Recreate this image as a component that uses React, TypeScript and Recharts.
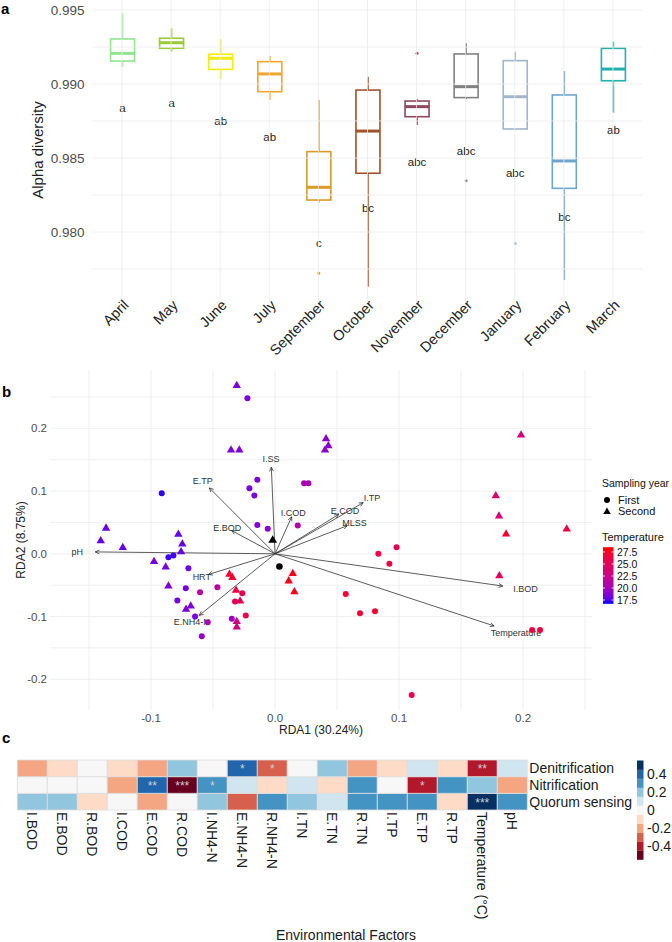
import React from 'react';
import {
  ComposedChart, Bar, XAxis, YAxis, ReferenceLine, ScatterChart, Scatter, BarChart, Cell, LabelList,
} from 'recharts';

const FONT = '"Liberation Sans", Arial, Helvetica, sans-serif';

// ---------- panel a: alpha diversity per month
const months = ['April', 'May', 'June', 'July', 'September', 'October', 'November', 'December', 'January', 'February', 'March'];
const whiskerLow = [0.99117, 0.99218, 0.99032, 0.98892, 0.98200, 0.97630, 0.98723, 0.98899, 0.98689, 0.97676, 0.98806];
const lowerQuartile = [0.99155, 0.99241, 0.99099, 0.98948, 0.98216, 0.98397, 0.98779, 0.98908, 0.98696, 0.98295, 0.99022];
const medians = [0.99207, 0.99279, 0.99174, 0.99068, 0.98302, 0.98682, 0.98847, 0.98982, 0.98914, 0.98480, 0.99101];
const upperQuartile = [0.99304, 0.99309, 0.99201, 0.99151, 0.98543, 0.98959, 0.98885, 0.99203, 0.99158, 0.98926, 0.99241];
const whiskerHigh = [0.99478, 0.99376, 0.99302, 0.99189, 0.98892, 0.99049, 0.98897, 0.99275, 0.99218, 0.99088, 0.99286];
const outliers: number[][] = [[], [], [], [], [0.97721], [], [0.99207], [0.98347], [0.97923], [], []];
const groupLetters = ['a', 'a', 'ab', 'ab', 'c', 'bc', 'abc', 'abc', 'abc', 'bc', 'ab'];
const letterY = [0.98838, 0.98872, 0.98752, 0.98642, 0.97928, 0.98160, 0.98471, 0.98549, 0.98401, 0.98099, 0.98689];
const alphaTicks = [0.98, 0.985, 0.99, 0.995];
const alphaGrid = [0.9775, 0.98, 0.9825, 0.985, 0.9875, 0.99, 0.9925, 0.995];

const monthColors = ['#8EE68E', '#9ACB34', '#F2EC0C', '#F2A52C', '#DC9A28', '#A0522D', '#8B4A5C', '#808080', '#A2B5CD', '#6CA6CD', '#20B2AA'];

// ---------- panel b: RDA biplot, [RDA1, RDA2, temperature]
const firstYear: [number, number, number][] = [
  [-0.0223, 0.248, 18.5], [-0.0143, 0.118, 18.4], [-0.0207, 0.1046, 18.4], [-0.0167, 0.093, 18.4],
  [-0.0143, 0.046, 18.6], [-0.0059, 0.040, 18.8], [0.0234, 0.1126, 20.5], [0.0269, 0.1126, 20.5],
  [0.0183, 0.045, 21], [-0.0914, 0.0967, 16.9], [-0.086, -0.0054, 17.1], [-0.082, -0.0027, 17.2],
  [-0.0699, -0.0229, 18.1], [-0.072, -0.0549, 18.2], [-0.0788, -0.0745, 18.2], [-0.0645, -0.1, 18.4],
  [-0.0543, -0.109, 21], [-0.0591, -0.1314, 19.3], [-0.0605, -0.0612, 21.5], [-0.0465, -0.0533, 21.5],
  [-0.0264, -0.0628, 25.5], [-0.0323, -0.0761, 25], [-0.0236, -0.0984, 26], [-0.0349, -0.1037, 19.8],
  [0.057, -0.064, 27], [0.0685, -0.0947, 27], [0.0806, -0.0915, 27], [0.0833, 0.0, 26],
  [0.098, 0.0105, 25], [0.0922, -0.016, 26], [0.2073, -0.1213, 26.5], [0.2137, -0.1213, 26.5],
  [0.1102, -0.2249, 25.5],
];
const secondYear: [number, number, number][] = [
  [-0.0309, 0.2687, 18.5], [-0.0355, 0.166, 18.5], [-0.0288, 0.166, 18.5], [0.0411, 0.184, 19],
  [0.043, 0.173, 19], [0.0403, 0.166, 19], [-0.1363, 0.0415, 17.8], [-0.1406, 0.0212, 17.8],
  [-0.1228, 0.0105, 17.8], [-0.078, 0.0319, 17.8], [-0.0748, 0.016, 17.8], [-0.0758, 0.004, 17.8],
  [-0.0976, -0.0118, 18.3], [-0.0882, -0.0203, 18.3], [-0.086, -0.0506, 18.5], [-0.0718, -0.0877, 18.5],
  [-0.068, -0.0825, 18.5], [-0.0368, -0.0319, 27], [-0.0344, -0.0373, 27], [-0.0315, -0.0574, 26.5],
  [-0.0282, -0.0745, 25.5], [-0.0309, -0.1075, 23], [-0.0309, -0.116, 23], [0.0143, -0.0309, 28],
  [0.011, -0.0426, 28], [0.0156, -0.0601, 28], [0.1984, 0.19, 23.5], [0.178, 0.093, 24],
  [0.1806, 0.061, 23.5], [0.1863, 0.032, 27], [0.2352, 0.04, 26.5], [0.1809, -0.0346, 25],
];
const centroidFirst = [[0.0035, -0.0203]];
const centroidSecond = [[-0.0019, 0.0223]];

const envNames = ['pH', 'E.TP', 'I.SS', 'E.BOD', 'I.COD', 'E.COD', 'I.TP', 'MLSS', 'HRT', 'E.NH4-N', 'I.BOD', 'Temperature'];
const envRDA1 = [-0.145, -0.053, -0.003, -0.035, 0.0134, 0.0513, 0.0711, 0.0583, -0.0537, -0.0611, 0.1836, 0.1767];
const envRDA2 = [0.003, 0.105, 0.138, 0.037, 0.0589, 0.0628, 0.0816, 0.0449, -0.0329, -0.0982, -0.0514, -0.115];

const rdaXTicks = [-0.1, 0, 0.1, 0.2];
const rdaYTicks = [-0.2, -0.1, 0, 0.1, 0.2];
const rdaGridX = [-0.15, -0.1, -0.05, 0, 0.05, 0.1, 0.15, 0.2, 0.25];
const rdaGridY = [-0.2, -0.15, -0.1, -0.05, 0, 0.05, 0.1, 0.15, 0.2, 0.25];
const tempTicks = [17.5, 20, 22.5, 25, 27.5];
const TMIN = 16.7;
const TMAX = 28.5;

// ---------- panel c: correlation heatmap
const factors = ['I.BOD', 'E.BOD', 'R.BOD', 'I.COD', 'E.COD', 'R.COD', 'I.NH4-N', 'E.NH4-N', 'R.NH4-N', 'I.TN', 'E.TN', 'R.TN', 'I.TP', 'E.TP', 'R.TP', 'Temperature (°C)', 'pH'];
const denitrification = [-0.19, -0.09, 0.0, -0.1, -0.21, 0.18, 0.01, 0.41, -0.31, 0.0, 0.19, -0.2, -0.1, 0.09, -0.1, -0.42, 0.1];
const nitrification = [0.0, 0.0, 0.0, -0.2, 0.4, -0.52, 0.31, 0.1, -0.1, 0.09, -0.09, 0.3, 0.01, -0.41, 0.3, 0.2, -0.21];
const quorumSensing = [0.19, 0.2, -0.1, 0.0, -0.2, 0.0, 0.2, -0.31, 0.3, 0.19, 0.1, 0.3, 0.3, 0.3, -0.1, 0.52, 0.3];
const denitStars = ['', '', '', '', '', '', '', '*', '*', '', '', '', '', '', '', '**', ''];
const nitStars = ['', '', '', '', '**', '***', '*', '', '', '', '', '', '', '*', '', '', ''];
const qsStars = ['', '', '', '', '', '', '', '', '', '', '', '', '', '', '', '***', ''];
const corrTicks = [0.4, 0.2, 0, -0.2, -0.4];

const RDBU = ['#67001F', '#B2182B', '#D6604D', '#F4A582', '#FDDBC7', '#F7F7F7', '#D1E5F0', '#92C5DE', '#4393C3', '#2166AC', '#053061'];
const corrColor = (v: number) => RDBU[Math.max(0, Math.min(10, Math.round(v * 10) + 5))];

// blue -> red gradient interpolated in Lab, as ggplot does
const toLin = (c: number) => { c /= 255; return c <= 0.04045 ? c / 12.92 : Math.pow((c + 0.055) / 1.055, 2.4); };
const fromLin = (c: number) => {
  const v = c <= 0.0031308 ? 12.92 * c : 1.055 * Math.pow(Math.max(c, 0), 1 / 2.4) - 0.055;
  return Math.round(Math.max(0, Math.min(1, v)) * 255);
};
function rgbToLab(rgb: number[]) {
  const [R, G, B] = rgb.map(toLin);
  const X = (0.4124 * R + 0.3576 * G + 0.1805 * B) / 0.95047;
  const Y = 0.2126 * R + 0.7152 * G + 0.0722 * B;
  const Z = (0.0193 * R + 0.1192 * G + 0.9505 * B) / 1.08883;
  const f = (t: number) => (t > 0.008856 ? Math.cbrt(t) : 7.787 * t + 16 / 116);
  const fx = f(X), fy = f(Y), fz = f(Z);
  return [116 * fy - 16, 500 * (fx - fy), 200 * (fy - fz)];
}
function labToRgb(lab: number[]) {
  const [L, a, b] = lab;
  const fy = (L + 16) / 116, fx = fy + a / 500, fz = fy - b / 200;
  const inv = (t: number) => (t * t * t > 0.008856 ? t * t * t : (t - 16 / 116) / 7.787);
  const X = inv(fx) * 0.95047, Y = inv(fy), Z = inv(fz) * 1.08883;
  const R = 3.2406 * X - 1.5372 * Y - 0.4986 * Z;
  const G = -0.9689 * X + 1.8758 * Y + 0.0415 * Z;
  const B = 0.0557 * X - 0.204 * Y + 1.057 * Z;
  return `rgb(${fromLin(R)},${fromLin(G)},${fromLin(B)})`;
}
const LAB_LO = rgbToLab([0, 0, 255]);
const LAB_HI = rgbToLab([255, 0, 0]);
function tempColor(t: number) {
  const u = Math.max(0, Math.min(1, (t - TMIN) / (TMAX - TMIN)));
  return labToRgb(LAB_LO.map((v, i) => v + (LAB_HI[i] - v) * u));
}

const alphaData = months.map((m, i) => ({
  month: m, lo: whiskerLow[i], q1: lowerQuartile[i], med: medians[i], q3: upperQuartile[i], hi: whiskerHigh[i],
  out: outliers[i], letter: groupLetters[i], letterY: letterY[i],
}));

const toPoints = (arr: number[][]) => arr.map(([x, y, temp]) => ({ x, y, temp }));

const heatData = factors.map((f) => ({
  factor: f, qsCell: 1, nitCell: 1, denCell: 1,
}));

const GRID = '#EBEBEB';

function BoxShape(props: any) {
  const { x, y, width, height, payload, index } = props;
  const { lo, hi } = payload;
  const top = Math.min(y, y + height);
  const bot = Math.max(y, y + height);
  const py = (v: number) => top + ((hi - v) / (hi - lo)) * (bot - top);
  const cx = x + width / 2;
  const c = monthColors[index];
  return (
    <g>
      <line x1={cx} x2={cx} y1={py(hi)} y2={py(payload.q3)} stroke={c} strokeWidth={1.6} />
      <line x1={cx} x2={cx} y1={py(payload.q1)} y2={py(lo)} stroke={c} strokeWidth={1.6} />
      <rect x={x} y={py(payload.q3)} width={width} height={py(payload.q1) - py(payload.q3)} fill="#fff" stroke={c} strokeWidth={1.6} />
      <line x1={x} x2={x + width} y1={py(payload.med)} y2={py(payload.med)} stroke={c} strokeWidth={3} />
      {payload.out.map((o: number, k: number) => (
        <circle key={k} cx={cx} cy={py(o)} r={1.5} fill={c} />
      ))}
      <text x={cx} y={py(payload.letterY)} dy="0.35em" textAnchor="middle" fontSize={11.5} fill="#1a1a1a">{payload.letter}</text>
    </g>
  );
}

function MonthTick({ x, y, payload }: any) {
  const ax = x + 7.5;
  const ay = y + 4;
  return (
    <text x={ax} y={ay} textAnchor="end" fontSize={14.5} fill="#222" transform={`rotate(-45, ${ax}, ${ay})`}>
      {payload.value}
    </text>
  );
}

function FactorTick({ x, y, payload }: any) {
  return (
    <text x={x} y={y} dy="0.35em" textAnchor="start" fontSize={14} fill="#1a1a1a" transform={`rotate(90, ${x}, ${y})`}>
      {payload.value}
    </text>
  );
}

const rowNames: Record<string, string> = { '0.5': 'Quorum sensing', '1.5': 'Nitrification', '2.5': 'Denitrification' };
function RowTick({ x, y, payload }: any) {
  return (
    <text x={x} y={y} dy="0.35em" textAnchor="start" fontSize={14} fill="#1a1a1a">
      {rowNames[String(payload.value)]}
    </text>
  );
}

function arrowShape(p: any, name: string) {
  const { x1, y1, x2, y2 } = p;
  const ang = Math.atan2(y2 - y1, x2 - x1);
  const len = 4.5;
  const sp = 0.45;
  const h1 = `${x2 - len * Math.cos(ang - sp)},${y2 - len * Math.sin(ang - sp)}`;
  const h2 = `${x2 - len * Math.cos(ang + sp)},${y2 - len * Math.sin(ang + sp)}`;
  const lx = x1 + (x2 - x1) * 1.1;
  const ly = y1 + (y2 - y1) * 1.1;
  return (
    <g>
      <line x1={x1} y1={y1} x2={x2} y2={y2} stroke="#333" strokeWidth={0.8} />
      <polyline points={`${h1} ${x2},${y2} ${h2}`} fill="none" stroke="#333" strokeWidth={0.8} />
      <text x={lx} y={ly} dy="0.35em" textAnchor="middle" fontSize={9} fill="#333">{name}</text>
    </g>
  );
}

const Circle = (color?: string, r = 3) => (p: any) => (
  <circle cx={p.cx} cy={p.cy} r={r} fill={color || tempColor(p.payload.temp)} />
);
const Triangle = (color?: string, s = 4.4) => (p: any) => (
  <polygon
    points={`${p.cx},${p.cy - s} ${p.cx - s * 0.95},${p.cy + s * 0.65} ${p.cx + s * 0.95},${p.cy + s * 0.65}`}
    fill={color || tempColor(p.payload.temp)}
  />
);

function stars(list: string[]) {
  return (p: any) => {
    const s = list[p.index];
    if (!s) return null;
    return (
      <text x={p.x + p.width / 2} y={p.y + p.height / 2 + 5} textAnchor="middle" fontSize={12} fill="#CFCFCF">{s}</text>
    );
  };
}

export default function App() {
  const tempY = (t: number) => 600 - (t - 17.5) * 4.8;
  const corrY = (v: number) => 810 - v * 90;
  const bins = RDBU.map((c, i) => ({ c, v: (i - 5) / 10 }));
  return (
    <div style={{ position: 'absolute', left: 0, top: 0, width: 672, height: 942, background: '#fff', fontFamily: FONT, overflow: 'hidden' }}>
      {/* panel a */}
      <div style={{ position: 'absolute', left: 0, top: 0 }}>
        <ComposedChart width={672} height={375} data={alphaData} margin={{ top: 0, right: 29.5, bottom: 0, left: 0 }}>
          {alphaGrid.map((v) => <ReferenceLine key={v} y={v} stroke={GRID} strokeWidth={0.8} />)}
          {months.map((m) => <ReferenceLine key={m} x={m} stroke={GRID} strokeWidth={0.8} />)}
          <XAxis dataKey="month" type="category" padding={{ left: 5, right: 5 }} height={73} interval={0}
            axisLine={false} tickLine={false} tickSize={0} tickMargin={0} tick={<MonthTick />} />
          <YAxis type="number" domain={[0.97527, 0.995676]} allowDataOverflow ticks={alphaTicks} interval={0}
            tickFormatter={(v: number) => v.toFixed(3)} width={92.5} axisLine={false} tickLine={false}
            tickSize={0} tickMargin={8} tick={{ fontSize: 13.5, fill: '#4D4D4D' }} />
          <Bar dataKey={(d: any) => [d.lo, d.hi]} barSize={24} shape={BoxShape} isAnimationActive={false} />
        </ComposedChart>
      </div>

      {/* panel b */}
      <div style={{ position: 'absolute', left: 0, top: 360 }}>
        <ScatterChart width={672} height={380} margin={{ top: 10, right: 80, bottom: 0, left: 0 }}>
          {rdaGridX.map((v) => <ReferenceLine key={'gx' + v} x={v} stroke={GRID} strokeWidth={0.8} />)}
          {rdaGridY.map((v) => <ReferenceLine key={'gy' + v} y={v} stroke={GRID} strokeWidth={0.8} />)}
          <XAxis type="number" dataKey="x" domain={[-0.1815, 0.2556]} allowDataOverflow ticks={rdaXTicks} interval={0}
            tickFormatter={(v: number) => v.toFixed(1)} height={30} axisLine={false} tickLine={false}
            tickSize={0} tickMargin={4} tick={{ fontSize: 11.5, fill: '#4D4D4D' }} />
          <YAxis type="number" dataKey="y" domain={[-0.249, 0.293]} allowDataOverflow ticks={rdaYTicks} interval={0}
            tickFormatter={(v: number) => v.toFixed(1)} width={50} axisLine={false} tickLine={false}
            tickSize={0} tickMargin={3} tick={{ fontSize: 11.5, fill: '#4D4D4D' }} />
          {envNames.map((n, i) => (
            <ReferenceLine key={n} segment={[{ x: 0, y: 0 }, { x: envRDA1[i], y: envRDA2[i] }]} ifOverflow="visible"
              shape={(p: any) => arrowShape(p, n)} />
          ))}
          <Scatter data={toPoints(firstYear)} shape={Circle()} isAnimationActive={false} />
          <Scatter data={toPoints(secondYear)} shape={Triangle()} isAnimationActive={false} />
          <Scatter data={toPoints(centroidFirst)} shape={Circle('#000', 3.3)} isAnimationActive={false} />
          <Scatter data={toPoints(centroidSecond)} shape={Triangle('#000', 4.6)} isAnimationActive={false} />
        </ScatterChart>
      </div>

      {/* panel c */}
      <div style={{ position: 'absolute', left: 0, top: 740 }}>
        <BarChart width={672} height={202} data={heatData} barCategoryGap={0} margin={{ top: 20, right: 0, bottom: 0, left: 17.3 }}>
          <XAxis dataKey="factor" type="category" height={132} interval={0} axisLine={false} tickLine={false}
            tickSize={0} tickMargin={2} tick={<FactorTick />} />
          <YAxis yAxisId={0} orientation="right" type="number" domain={[0, 3]} ticks={[0.5, 1.5, 2.5]} interval={0}
            width={144.7} axisLine={false} tickLine={false} tickSize={0} tickMargin={2} tick={<RowTick />} />
          <Bar dataKey="qsCell" stackId="h" stroke="#DDDDDD" strokeWidth={0.8} isAnimationActive={false}>
            {quorumSensing.map((v, i) => <Cell key={i} fill={corrColor(v)} />)}
            <LabelList dataKey="qsCell" content={stars(qsStars)} />
          </Bar>
          <Bar dataKey="nitCell" stackId="h" stroke="#DDDDDD" strokeWidth={0.8} isAnimationActive={false}>
            {nitrification.map((v, i) => <Cell key={i} fill={corrColor(v)} />)}
            <LabelList dataKey="nitCell" content={stars(nitStars)} />
          </Bar>
          <Bar dataKey="denCell" stackId="h" stroke="#DDDDDD" strokeWidth={0.8} isAnimationActive={false}>
            {denitrification.map((v, i) => <Cell key={i} fill={corrColor(v)} />)}
            <LabelList dataKey="denCell" content={stars(denitStars)} />
          </Bar>
        </BarChart>
      </div>

      {/* titles and legends */}
      <svg width={672} height={942} style={{ position: 'absolute', left: 0, top: 0, pointerEvents: 'none' }}>
        <defs>
          <linearGradient id="tempGrad" x1="0" y1="1" x2="0" y2="0">
            {Array.from({ length: 11 }, (_, k) => (
              <stop key={k} offset={`${k * 10}%`} stopColor={tempColor(TMIN + ((TMAX - TMIN) * k) / 10)} />
            ))}
          </linearGradient>
        </defs>
        <text x={1} y={14} fontSize={15} fontWeight="bold" fill="#000">a</text>
        <text x={43} y={150} fontSize={15} fill="#222" textAnchor="middle" transform="rotate(-90, 43, 150)">Alpha diversity</text>

        <text x={2} y={397} fontSize={15} fontWeight="bold" fill="#000">b</text>
        <text x={25} y={540} fontSize={12} fill="#222" textAnchor="middle" transform="rotate(-90, 25, 540)">RDA2 (8.75%)</text>
        <text x={321} y={734} fontSize={12} fill="#222" textAnchor="middle">RDA1 (30.24%)</text>

        <text x={602} y={487} fontSize={10.5} fill="#111">Sampling year</text>
        <circle cx={607} cy={500} r={3} fill="#000" />
        <text x={618} y={500} dy="0.35em" fontSize={11} fill="#111">First</text>
        <polygon points="607,507.5 603.2,514 610.8,514" fill="#000" />
        <text x={618} y={511.5} dy="0.35em" fontSize={11} fill="#111">Second</text>
        <text x={602} y={541} fontSize={11} fill="#111">Temperature</text>
        <rect x={603} y={tempY(TMAX)} width={10.5} height={tempY(TMIN) - tempY(TMAX)} fill="url(#tempGrad)" />
        {tempTicks.map((t) => (
          <g key={t}>
            <line x1={603} x2={605} y1={tempY(t)} y2={tempY(t)} stroke="#fff" strokeWidth={0.8} />
            <line x1={611.5} x2={613.5} y1={tempY(t)} y2={tempY(t)} stroke="#fff" strokeWidth={0.8} />
            <text x={617} y={tempY(t)} dy="0.35em" fontSize={10.5} fill="#111">{t.toFixed(1)}</text>
          </g>
        ))}

        <text x={2} y={743} fontSize={15} fontWeight="bold" fill="#000">c</text>
        {bins.map((b) => (
          <rect key={b.v} x={637} y={corrY(b.v + 0.05)} width={6.5} height={corrY(b.v - 0.05) - corrY(b.v + 0.05) + 0.3} fill={b.c} />
        ))}
        {corrTicks.map((v) => (
          <text key={v} x={647} y={corrY(v)} dy="0.35em" fontSize={14} fill="#1a1a1a">{v === 0 ? '0' : v.toFixed(1)}</text>
        ))}
        <text x={346} y={940} fontSize={14} fill="#1a1a1a" textAnchor="middle">Environmental Factors</text>
      </svg>
    </div>
  );
}
